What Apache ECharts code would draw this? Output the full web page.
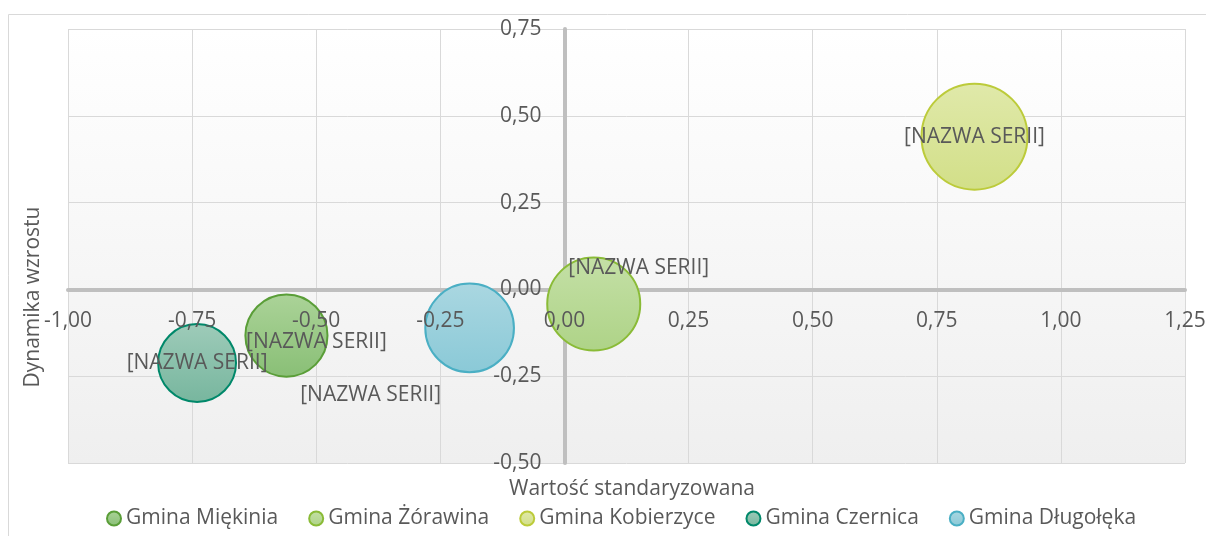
<!DOCTYPE html>
<html>
<head>
<meta charset="utf-8">
<script src="https://cdn.jsdelivr.net/npm/echarts@6/dist/echarts.min.js"></script>
<style>
  html, body { margin: 0; padding: 0; background: #fff; }
  #chart { width: 1206px; height: 536px; }
</style>
</head>
<body>
<div id="chart"></div>
<script>
// dane
const gminy = ['Gmina Miękinia', 'Gmina Żórawina', 'Gmina Kobierzyce', 'Gmina Czernica', 'Gmina Długołęka'];
const wartoscStand = [-0.56, 0.059, 0.826, -0.74, -0.191];
const dynamika = [-0.133, -0.042, 0.44, -0.212, -0.111];
const rozmiar = [0.60, 0.77, 1.0, 0.54, 0.70];

const xMin = -1, xMax = 1.25, xStep = 0.25;
const yMin = -0.5, yMax = 0.75, yStep = 0.25;

// kolory: góra, dół gradientu, obramowanie
const kolory = [
  ['#abd398', '#89bf76', '#5a9e38'],
  ['#c4e0a6', '#aed387', '#8abb37'],
  ['#e0e9aa', '#d2df88', '#bccb3a'],
  ['#9ecbb9', '#77b69e', '#00886a'],
  ['#aad7e1', '#8ac9d7', '#4aafc4']
];
// przesunięcia etykiet
const przesuniecia = [[30, 6], [45, -36], [0, 0], [0, 0], [-99, 67]];

const W = 1206, H = 536;
const grid = { left: 68, right: 21, top: 29, bottom: 73 };
const gw = W - grid.left - grid.right;
const gh = H - grid.top - grid.bottom;
// odległość osi zerowych od krawędzi siatki (etykiety osi rysowane nad bąblami)
const zeroFromLeft = gw * (0 - xMin) / (xMax - xMin);
const zeroFromBottom = gh * (0 - yMin) / (yMax - yMin);

const fmt = v => v.toFixed(2).replace('.', ',');
const txt = '#595959';
const font = 'Open Sans';
const fs = 21;
const invisible = 'rgba(0,0,0,0)';

const chart = echarts.init(document.getElementById('chart'));

const series = gminy.map((g, i) => ({
  name: g,
  type: 'scatter',
  xAxisIndex: 0,
  yAxisIndex: 0,
  z: 2,
  symbol: 'circle',
  symbolSize: d => 106 * Math.sqrt(d[2]),
  itemStyle: {
    color: new echarts.graphic.LinearGradient(0, 0, 0, 1, [
      { offset: 0, color: kolory[i][0] },
      { offset: 1, color: kolory[i][1] }
    ]),
    borderColor: kolory[i][2],
    borderWidth: 2,
    opacity: 1
  },
  label: {
    show: true,
    position: 'inside',
    formatter: '[NAZWA SERII]',
    color: txt,
    fontFamily: font,
    fontSize: fs,
    offset: przesuniecia[i]
  },
  emphasis: { disabled: true },
  data: [[wartoscStand[i], dynamika[i], rozmiar[i]]]
}));

// niewidoczna seria dla osi z etykietami
series.push({
  name: 'osie',
  type: 'scatter',
  xAxisIndex: 1,
  yAxisIndex: 1,
  symbolSize: 0,
  silent: true,
  itemStyle: { color: invisible },
  label: { show: false },
  data: wartoscStand.map((x, i) => [x, dynamika[i]])
});

const option = {
  animation: false,
  textStyle: { fontFamily: font },
  grid: {
    left: grid.left, right: grid.right, top: grid.top, bottom: grid.bottom,
    outerBoundsMode: 'none',
    containLabel: false,
    show: true,
    borderWidth: 0,
    backgroundColor: new echarts.graphic.LinearGradient(0, 0, 0, 1, [
      { offset: 0, color: '#ffffff' },
      { offset: 1, color: '#efefef' }
    ])
  },
  legend: {
    data: gminy,
    left: 101,
    top: 503,
    icon: 'circle',
    itemWidth: 14,
    itemHeight: 14,
    itemGap: 30,
    textStyle: { color: txt, fontFamily: font, fontSize: fs }
  },
  xAxis: [
    {
      type: 'value', min: xMin, max: xMax, interval: xStep, position: 'top', z: 0,
      axisLine: { show: true, onZero: true, lineStyle: { color: '#bfbfbf', width: 4 } },
      axisTick: { show: false },
      axisLabel: { show: false },
      splitLine: { show: true, lineStyle: { color: '#d9d9d9', width: 1 } }
    },
    {
      type: 'value', min: xMin, max: xMax, interval: xStep, position: 'bottom', z: 5,
      offset: -zeroFromBottom,
      axisLine: { show: false, onZero: false },
      axisTick: { show: false },
      splitLine: { show: false },
      axisLabel: { color: txt, fontFamily: font, fontSize: fs, margin: 21, formatter: fmt }
    }
  ],
  yAxis: [
    {
      type: 'value', min: yMin, max: yMax, interval: yStep, position: 'right', z: 0,
      axisLine: { show: true, onZero: true, lineStyle: { color: '#bfbfbf', width: 4 } },
      axisTick: { show: false },
      axisLabel: { show: false },
      splitLine: { show: true, lineStyle: { color: '#d9d9d9', width: 1 } }
    },
    {
      type: 'value', min: yMin, max: yMax, interval: yStep, position: 'left', z: 5,
      offset: -zeroFromLeft,
      axisLine: { show: false, onZero: false },
      axisTick: { show: false },
      splitLine: { show: false },
      axisLabel: { color: txt, fontFamily: font, fontSize: fs, margin: 23, formatter: fmt }
    }
  ],
  graphic: [
    {
      type: 'rect', z: -10, silent: true,
      shape: { x: 8.5, y: 14.5, width: 1300, height: 600 },
      style: { fill: 'none', stroke: '#d9d9d9', lineWidth: 1 }
    },
    {
      type: 'text', x: 33, y: 297, rotation: Math.PI / 2, silent: true,
      style: { text: 'Dynamika wzrostu', fill: txt, font: fs + 'px "' + font + '"', align: 'center', verticalAlign: 'middle' }
    },
    {
      type: 'text', x: 632, y: 489, silent: true,
      style: { text: 'Wartość standaryzowana', fill: txt, font: fs + 'px "' + font + '"', align: 'center', verticalAlign: 'middle' }
    }
  ],
  series: series
};

chart.setOption(option);
</script>
</body>
</html>
